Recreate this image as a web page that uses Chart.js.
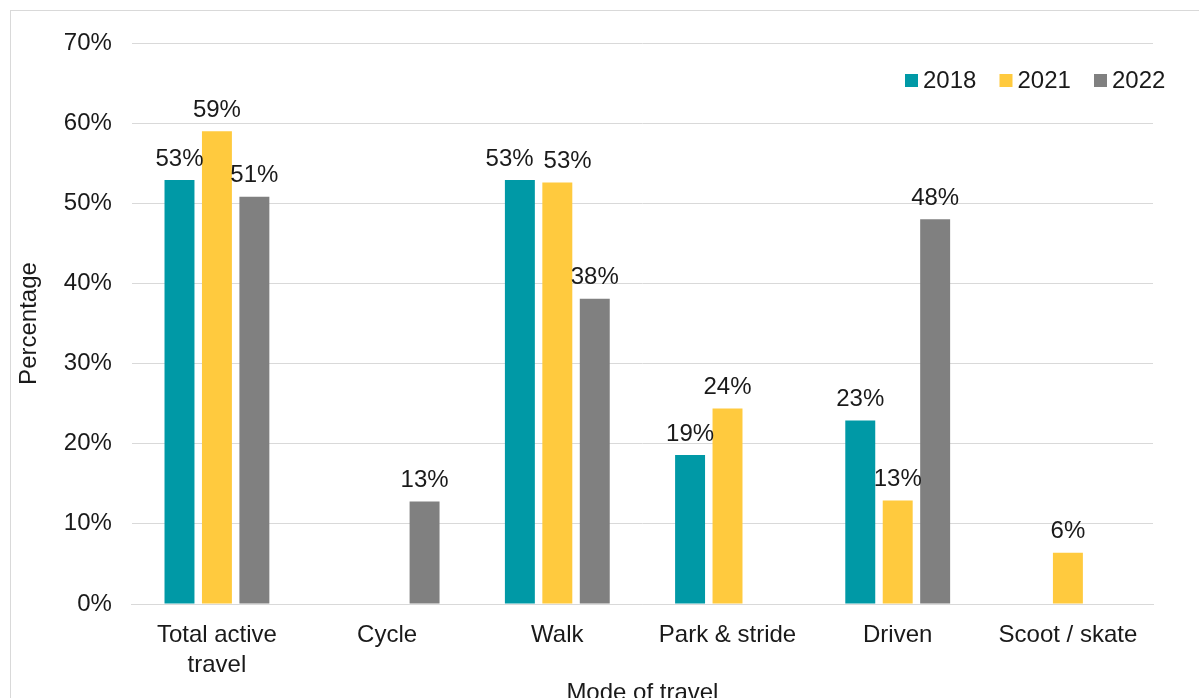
<!DOCTYPE html>
<html lang="en">
<head>
    <meta charset="UTF-8">
    <title>Mode of travel</title>
    <script src="https://cdn.jsdelivr.net/npm/chart.js"></script>
    <style>
        html, body {
            margin: 0;
            padding: 0;
            background: #fff;
            overflow: hidden;
        }
        .wrap {
            position: relative;
            width: 1199px;
            height: 705px;
        }
    </style>
</head>
<body>
    <div class="wrap">
        <canvas id="modeChart"></canvas>
    </div>

    <script>
        // Modes of travel and the share for each survey year
        const categories = [["Total active", "travel"], "Cycle", "Walk", "Park & stride", "Driven", "Scoot / skate"];
        const years = ["2018", "2021", "2022"];
        const values2018 = [52.9, null, 52.9, 18.6, 22.9, null];
        const values2021 = [59.0, null, 52.6, 24.4, 12.9, 6.4];
        const values2022 = [50.8, 12.8, 38.1, null, 48.0, null];
        const yTicks = [0, 10, 20, 30, 40, 50, 60, 70];

        const colours = ["#0099A6", "#FFCA3E", "#808080"];
        const FONT = "'Liberation Sans', Arial, sans-serif";
        const TEXT = "#1a1a1a";

        // thin frame around the whole figure
        const framePlugin = {
            id: "frame",
            beforeDraw(chart) {
                const ctx = chart.ctx;
                ctx.save();
                ctx.strokeStyle = "#d9d9d9";
                ctx.lineWidth = 1;
                ctx.strokeRect(10.5, 10.5, chart.width + 20, chart.height + 20);
                ctx.restore();
            }
        };

        // value labels above each bar; labels in the same group that
        // would collide are pushed apart sideways
        const valueLabels = {
            id: "valueLabels",
            afterDatasetsDraw(chart) {
                const ctx = chart.ctx;
                ctx.save();
                ctx.font = "24px " + FONT;
                ctx.fillStyle = TEXT;
                ctx.textAlign = "center";
                ctx.textBaseline = "bottom";
                const gap = 10;
                chart.data.labels.forEach((_, j) => {
                    const items = [];
                    chart.data.datasets.forEach((ds, i) => {
                        const v = ds.data[j];
                        if (v === null || v === undefined) return;
                        const bar = chart.getDatasetMeta(i).data[j];
                        const text = Math.round(v) + "%";
                        items.push({ text, x: bar.x, y: bar.y - 9, w: ctx.measureText(text).width });
                    });
                    for (let k = 1; k < items.length; k++) {
                        const a = items[k - 1], b = items[k];
                        if (Math.abs(a.y - b.y) > 28) continue;
                        const overlap = (a.x + a.w / 2 + gap) - (b.x - b.w / 2);
                        if (overlap > 0) {
                            a.x -= overlap / 2;
                            b.x += overlap / 2;
                        }
                    }
                    items.forEach(it => ctx.fillText(it.text, it.x, it.y));
                });
                ctx.restore();
            }
        };

        // legend in the top right corner, inside the plot
        const cornerLegend = {
            id: "cornerLegend",
            afterDraw(chart) {
                const ctx = chart.ctx;
                const y = chart.chartArea.top + 37;
                let x = 905;
                ctx.save();
                ctx.font = "24px " + FONT;
                ctx.textBaseline = "middle";
                ctx.textAlign = "left";
                chart.data.datasets.forEach(ds => {
                    ctx.fillStyle = ds.backgroundColor;
                    ctx.fillRect(x, y - 6, 13, 13);
                    ctx.fillStyle = TEXT;
                    ctx.fillText(ds.label, x + 18, y + 1);
                    x += 94.5;
                });
                ctx.restore();
            }
        };

        const datasets = [values2018, values2021, values2022].map((vals, i) => ({
            label: years[i],
            data: vals,
            backgroundColor: colours[i],
            borderWidth: 0,
            barPercentage: 0.8,
            categoryPercentage: 0.66
        }));

        new Chart(document.getElementById("modeChart"), {
            type: "bar",
            data: { labels: categories, datasets: datasets },
            options: {
                responsive: true,
                maintainAspectRatio: false,
                animation: false,
                layout: {
                    padding: { left: 15, right: 46, top: 43, bottom: 0 }
                },
                scales: {
                    x: {
                        grid: { display: false, drawTicks: false },
                        border: { display: true, color: "#d9d9d9", width: 1 },
                        ticks: {
                            color: TEXT,
                            font: { family: FONT, size: 24, lineHeight: 1.25 },
                            padding: 16,
                            maxRotation: 0,
                            autoSkip: false
                        },
                        title: {
                            display: true,
                            text: "Mode of travel",
                            color: TEXT,
                            font: { family: FONT, size: 24, lineHeight: 1.0 },
                            padding: { top: -15, bottom: 0 }
                        }
                    },
                    y: {
                        min: 0,
                        max: 70,
                        afterBuildTicks(axis) {
                            axis.ticks = yTicks.map(v => ({ value: v }));
                        },
                        grid: { color: "#d9d9d9", drawTicks: false },
                        border: { display: false },
                        ticks: {
                            color: TEXT,
                            font: { family: FONT, size: 24 },
                            padding: 20,
                            callback: v => v + "%"
                        },
                        title: {
                            display: true,
                            text: "Percentage",
                            color: TEXT,
                            font: { family: FONT, size: 24, lineHeight: 1.2 },
                            padding: { top: 0, bottom: 0 }
                        }
                    }
                },
                plugins: {
                    legend: { display: false },
                    tooltip: { enabled: false }
                }
            },
            plugins: [framePlugin, valueLabels, cornerLegend]
        });
    </script>
</body>
</html>
